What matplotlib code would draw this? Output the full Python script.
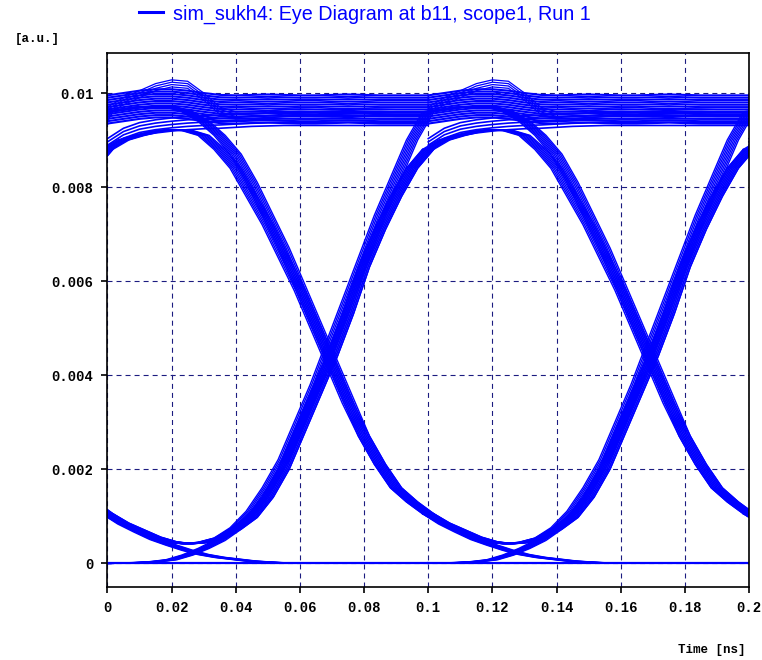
import numpy as np
import matplotlib
matplotlib.use("Agg")
import matplotlib.pyplot as plt

# time grid of one bit slot (0.1 ns)
slot_t = np.linspace(0.0, 0.1, 21)
slot_shifts = [-0.1, 0.0, 0.1, 0.2]

# trace classes within one slot (amplitude in a.u.)
high_level = [0.00965, 0.0097, 0.00975, 0.00978, 0.00978, 0.00975, 0.0097, 0.00966, 0.00965, 0.00966, 0.00967,
              0.00966, 0.00965, 0.00965, 0.00966, 0.00967, 0.00966, 0.00965, 0.00965, 0.00965, 0.00965]
overshoot = [0.0097, 0.0099, 0.01005, 0.0102, 0.01028, 0.01025, 0.0100, 0.0097, 0.0096, 0.0096, 0.00962,
             0.00965, 0.00966, 0.00965, 0.00964, 0.00965, 0.00966, 0.00966, 0.00965, 0.00965, 0.00965]
rise_tail = [0.0088, 0.00902, 0.00914, 0.0092, 0.00924, 0.00927, 0.00929, 0.0093, 0.00932, 0.00934, 0.00935,
             0.00936, 0.00936, 0.00936, 0.00936, 0.00936, 0.00936, 0.00936, 0.00936, 0.00936, 0.00936]
fall = [0.0096, 0.00965, 0.0097, 0.0097, 0.0097, 0.0096, 0.0094, 0.0091, 0.0087, 0.0081, 0.0074,
        0.0067, 0.0059, 0.0051, 0.0043, 0.0035, 0.0027, 0.0021, 0.0016, 0.0013, 0.00105]
fall_after_rise = [0.0088, 0.0090, 0.0091, 0.00918, 0.00922, 0.0092, 0.0091, 0.0088, 0.0084, 0.0078, 0.0072,
                   0.0065, 0.0058, 0.0050, 0.0042, 0.0034, 0.0027, 0.0021, 0.0016, 0.0013, 0.00105]
rise = [0.0, 0.0, 0.00001, 0.00003, 0.00007, 0.00017, 0.00031, 0.00048, 0.00072, 0.00097, 0.0014,
        0.0020, 0.0028, 0.0036, 0.0044, 0.0053, 0.0063, 0.0071, 0.0078, 0.0084, 0.0088]
rise_after_dip = [0.00105, 0.00085, 0.0007, 0.00055, 0.00045, 0.00041, 0.00044, 0.00053, 0.00072, 0.00097, 0.0014,
                  0.0020, 0.0028, 0.0036, 0.0044, 0.0053, 0.0063, 0.0071, 0.0078, 0.0084, 0.0088]
rise_fast = [0.00105, 0.00085, 0.0007, 0.00055, 0.00045, 0.00041, 0.00044, 0.00053, 0.00075, 0.0011, 0.0016,
             0.0022, 0.0030, 0.0038, 0.0047, 0.0056, 0.0065, 0.0074, 0.0082, 0.0090, 0.0096]
decay = [0.00105, 0.00083, 0.00066, 0.0005, 0.00038, 0.00027, 0.00018, 0.00012, 0.00008, 0.00004, 0.00002,
         0.0, 0.0, 0.0, 0.0, 0.0, 0.0, 0.0, 0.0, 0.0, 0.0]
low_level = [0.0] * 21

# spread of the bundles
edge_jitter = [-0.0018, -0.0013, -0.0008, -0.0003, 0.0002, 0.0007, 0.0012, 0.0017]
level_spread = [-0.0003, -0.00025, -0.0002, -0.00015, -0.0001, -0.00005, 0.0,
                0.00005, 0.0001, 0.00015, 0.0002, 0.00025, 0.0003]
overshoot_spread = [0.0, -0.00005, -0.0001, -0.00015]
tail_spread = [-0.00005, 0.00002, 0.00009, 0.00016, 0.00023]

x_ticks = [0, 0.02, 0.04, 0.06, 0.08, 0.1, 0.12, 0.14, 0.16, 0.18, 0.2]
x_labels = ["0", "0.02", "0.04", "0.06", "0.08", "0.1", "0.12", "0.14", "0.16", "0.18", "0.2"]
y_ticks = [0, 0.002, 0.004, 0.006, 0.008, 0.01]
y_labels = ["0", "0.002", "0.004", "0.006", "0.008", "0.01"]

legend_label = "sim_sukh4: Eye Diagram at b11, scope1, Run 1"
blue = "#0000ff"
mono = "Liberation Mono"

plt.rcParams["lines.scale_dashes"] = False
fig = plt.figure(figsize=(7.62, 6.6), dpi=100)
ax = fig.add_axes([0.141, 0.1106, 0.842, 0.809])

edge_classes = [fall, fall_after_rise, rise, rise_after_dip, rise_fast, decay]
for s in slot_shifts:
    for lvl in level_spread:
        ax.plot(slot_t + s, np.array(high_level) + lvl, color=blue, lw=1.5)
    for lvl in overshoot_spread:
        ax.plot(slot_t + s, np.array(overshoot) + lvl, color=blue, lw=0.9)
    for lvl in tail_spread:
        ax.plot(slot_t + s, np.array(rise_tail) + lvl, color=blue, lw=1.2)
    for trace in edge_classes:
        for dj in edge_jitter:
            ax.plot(slot_t + s + dj, trace, color=blue, lw=1.0)
    ax.plot(slot_t + s, low_level, color=blue, lw=1.6)

ax.set_xlim(0, 0.2)
ax.set_ylim(-0.00051, 0.01085)
ax.set_xticks(x_ticks)
ax.set_xticklabels(x_labels, family=mono, fontsize=10, fontweight="bold")
ax.set_yticks(y_ticks)
ax.set_yticklabels(y_labels, family=mono, fontsize=10, fontweight="bold")
ax.tick_params(direction="out", length=4, width=1.2, pad=6, colors="black")
ax.set_axisbelow(True)
ax.grid(True, color="#1c1c80", lw=0.8, linestyle=(0, (3.6, 2.9)))
for sp in ax.spines.values():
    sp.set_linewidth(1.2)
    sp.set_color("black")

# legend entry above the plot
handle = plt.Line2D([], [], color=blue, lw=2.2)
fig.legend([handle], [legend_label], loc="center left", bbox_to_anchor=(139 / 762, 1 - 14 / 660),
           frameon=False, borderpad=0, borderaxespad=0, handlelength=1.2, handletextpad=0.5,
           prop={"family": "Liberation Sans", "size": 14.2}, labelcolor=blue)

fig.text(37 / 762, 1 - 39 / 660, "[a.u.]", family=mono, fontsize=9, fontweight="bold",
         ha="center", va="center")
fig.text(745 / 762, 1 - 650 / 660, "Time [ns]", family=mono, fontsize=9, fontweight="bold",
         ha="right", va="center")

fig.savefig("out.png", dpi=100)
